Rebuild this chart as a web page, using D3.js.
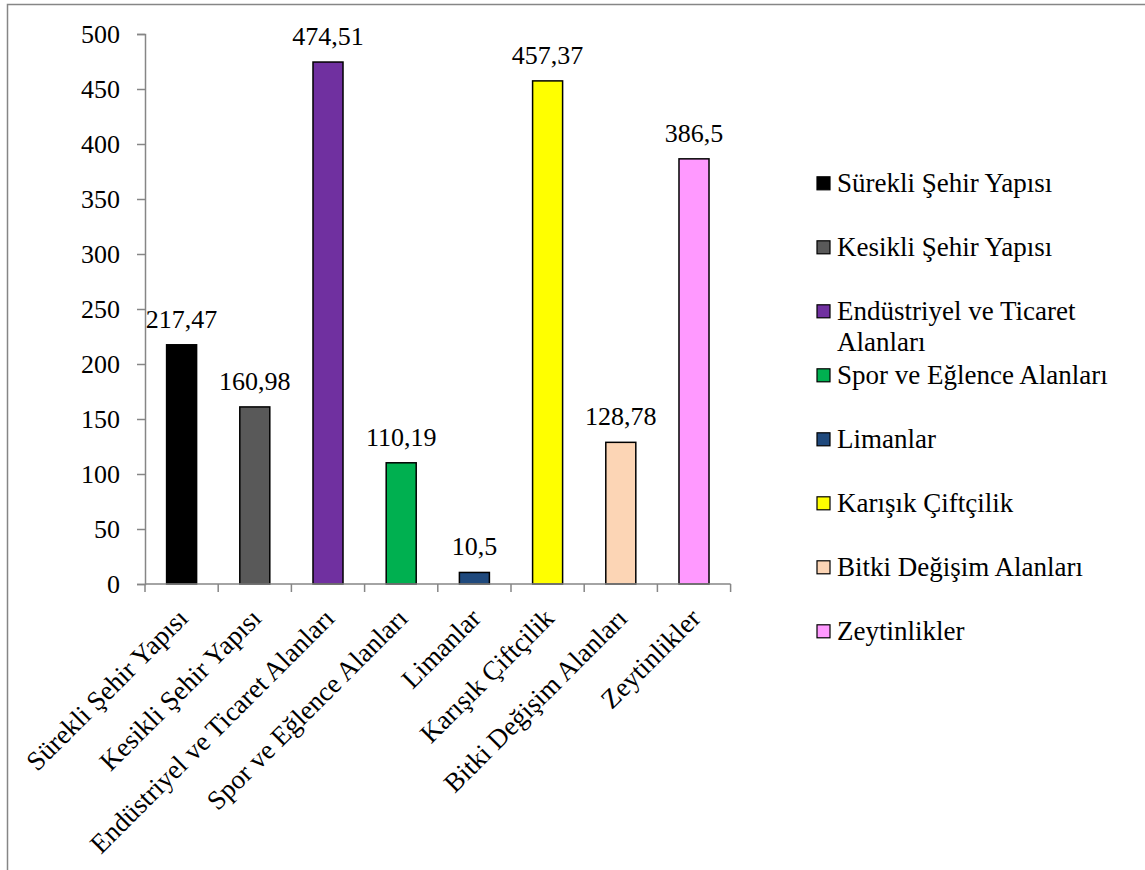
<!DOCTYPE html>
<html><head><meta charset="utf-8">
<script src="https://cdn.jsdelivr.net/npm/d3@7"></script>
</head><body style="margin:0;background:#fff">
<svg id="c" width="1145" height="870"></svg>
<script>
const categories = ["Sürekli Şehir Yapısı","Kesikli Şehir Yapısı","Endüstriyel ve Ticaret Alanları","Spor ve Eğlence Alanları","Limanlar","Karışık Çiftçilik","Bitki Değişim Alanları","Zeytinlikler"];
const values = [217.47,160.98,474.51,110.19,10.5,457.37,128.78,386.5];
const valueLabels = ["217,47","160,98","474,51","110,19","10,5","457,37","128,78","386,5"];
const colors = ["#000000","#595959","#7030A0","#00B050","#1F497D","#FFFF00","#FCD5B5","#FF99FF"];
const yTicks = [0,50,100,150,200,250,300,350,400,450,500];
const legendLines = [["Sürekli Şehir Yapısı"],["Kesikli Şehir Yapısı"],["Endüstriyel ve Ticaret","Alanları"],["Spor ve Eğlence Alanları"],["Limanlar"],["Karışık Çiftçilik"],["Bitki Değişim Alanları"],["Zeytinlikler"]];

const FONT = "Liberation Serif";
const FS = 26;
const CFS = 27;
const LFS = 27;
const axisColor = "#868686";
const svg = d3.select("#c");

svg.append("rect").attr("x",7.5).attr("y",4.5).attr("width",1200).attr("height",900)
  .attr("fill","none").attr("stroke",axisColor).attr("stroke-width",1.5);

const x = d3.scaleBand().domain(categories).range([145,730.6]).paddingInner(0.59).paddingOuter(0.295);
const xb = d3.scaleBand().domain(categories).range([145,730.6]);
const y = d3.scaleLinear().domain([0,500]).range([584,34]);

svg.append("g").selectAll("rect").data(values).join("rect")
  .attr("x",(d,i)=>x(categories[i])).attr("width",x.bandwidth())
  .attr("y",d=>y(d)).attr("height",d=>y(0)-y(d))
  .attr("fill",(d,i)=>colors[i]).attr("stroke","#000").attr("stroke-width",1.5);

const ya = svg.append("g").attr("transform","translate(145,0)")
  .call(d3.axisLeft(y).tickValues(yTicks).tickSize(8).tickPadding(17).tickFormat(d3.format("d")));
ya.attr("font-family",FONT).attr("font-size",FS);
ya.select(".domain").attr("stroke",axisColor).attr("stroke-width",1.5);
ya.selectAll(".tick line").attr("stroke",axisColor).attr("stroke-width",1.5);
ya.selectAll(".tick text").attr("font-family",FONT).attr("font-size",FS).attr("fill","#000");

const xa = svg.append("g").attr("transform","translate(0,584)");
xa.append("line").attr("x1",145).attr("x2",730.6).attr("stroke",axisColor).attr("stroke-width",1.5);
const edges = categories.map(c=>xb(c)).concat([xb.range()[1]]);
xa.selectAll("line.tk").data(edges).join("line").attr("class","tk")
  .attr("x1",d=>d).attr("x2",d=>d).attr("y1",0).attr("y2",8).attr("stroke",axisColor).attr("stroke-width",1.5);

svg.append("g").selectAll("text").data(categories).join("text")
  .attr("transform",d=>`translate(${xb(d)+xb.bandwidth()/2+8},${620}) rotate(-45)`)
  .attr("text-anchor","end").attr("font-family",FONT).attr("font-size",CFS).attr("fill","#000").text(d=>d);

svg.append("g").selectAll("text").data(values).join("text")
  .attr("x",(d,i)=>xb(categories[i])+xb.bandwidth()/2).attr("y",d=>y(d)-17)
  .attr("text-anchor","middle").attr("font-family",FONT).attr("font-size",FS).attr("fill","#000")
  .text((d,i)=>valueLabels[i]);

const lg = svg.append("g");
legendLines.forEach((lines,i)=>{
  const cy = 183.3 + i*64;
  lg.append("rect").attr("x",817).attr("y",cy-6.5).attr("width",13).attr("height",13)
    .attr("fill",colors[i]).attr("stroke","#000").attr("stroke-width",1.2);
  lines.forEach((t,j)=>{
    lg.append("text").attr("x",837).attr("y",cy+j*31).attr("dy","0.32em")
      .attr("font-family",FONT).attr("font-size",LFS).attr("fill","#000").text(t);
  });
});
</script>
</body></html>
